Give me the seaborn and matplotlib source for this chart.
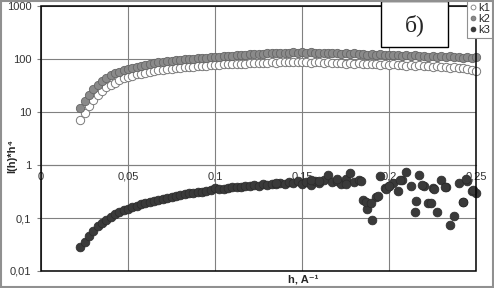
import numpy as np
import pandas as pd
import seaborn as sns
import matplotlib.pyplot as plt
from matplotlib.patches import Rectangle
from matplotlib.lines import Line2D
from matplotlib.ticker import NullLocator

# sample grid (h, A^-1)
h = [0.0225, 0.025, 0.0275, 0.03, 0.0325, 0.035, 0.0375, 0.04, 0.0425, 0.045,
     0.0475, 0.05, 0.0525, 0.055, 0.0575, 0.06, 0.0625, 0.065, 0.0675, 0.07,
     0.0725, 0.075, 0.0775, 0.08, 0.0825, 0.085, 0.0875, 0.09, 0.0925, 0.095,
     0.0975, 0.1, 0.1025, 0.105, 0.1075, 0.11, 0.1125, 0.115, 0.1175, 0.12,
     0.1225, 0.125, 0.1275, 0.13, 0.1325, 0.135, 0.1375, 0.14, 0.1425, 0.145,
     0.1475, 0.15, 0.1525, 0.155, 0.1575, 0.16, 0.1625, 0.165, 0.1675, 0.17,
     0.1725, 0.175, 0.1775, 0.18, 0.1825, 0.185, 0.1875, 0.19, 0.1925, 0.195,
     0.1975, 0.2, 0.2025, 0.205, 0.2075, 0.21, 0.2125, 0.215, 0.2175, 0.22,
     0.2225, 0.225, 0.2275, 0.23, 0.2325, 0.235, 0.2375, 0.24, 0.2425, 0.245,
     0.2475, 0.25]

k1 = [7, 9.5, 13, 17, 21, 25, 29, 33, 36, 40,
      43, 46, 48, 51, 53, 55, 57, 59, 61, 62,
      64, 65, 67, 68, 70, 71, 72, 73, 74, 75,
      76, 77, 78, 79, 79, 80, 81, 82, 82, 83,
      84, 84, 85, 85, 86, 85, 87, 86, 87, 86,
      88, 86, 87, 85, 87, 86, 84, 86, 83, 85,
      84, 82, 84, 81, 83, 80, 82, 79, 81, 78,
      80, 77, 79, 76, 78, 75, 77, 74, 76, 73,
      75, 72, 74, 71, 72, 69, 70, 67, 68, 64,
      62, 60]

k2 = [12, 16, 21, 27, 33, 38, 44, 49, 54, 58,
      62, 66, 69, 72, 75, 78, 81, 83, 86, 88,
      90, 92, 94, 96, 98, 100, 102, 103, 105, 106,
      108, 110, 111, 113, 114, 116, 117, 119, 120, 122,
      123, 125, 124, 127, 128, 127, 130, 131, 129, 133,
      132, 134, 131, 133, 130, 132, 128, 131, 127, 129,
      126, 128, 124, 127, 123, 125, 121, 124, 120, 122,
      118, 121, 117, 119, 115, 118, 114, 117, 113, 115,
      111, 114, 110, 113, 109, 112, 108, 110, 106, 109,
      105, 107]

k3 = [0.028, 0.036, 0.046, 0.058, 0.07, 0.081, 0.093, 0.105, 0.117, 0.128,
      0.139, 0.15, 0.16, 0.17, 0.18, 0.19, 0.2, 0.21, 0.22, 0.23,
      0.24, 0.25, 0.26, 0.27, 0.28, 0.29, 0.3, 0.31, 0.315, 0.33,
      0.34, 0.37, 0.35, 0.36, 0.37, 0.38, 0.38, 0.39, 0.4, 0.41,
      0.42, 0.41, 0.43, 0.42, 0.44, 0.43, 0.46, 0.44, 0.48, 0.45,
      0.5, 0.44, 0.47, 0.42, 0.49, 0.45, 0.52, 0.66, 0.48, 0.5,
      0.44, 0.55, 0.71, 0.47, 0.52, 0.22, 0.15, 0.09, 0.25, 0.61,
      0.37, 0.4, 0.46, 0.33, 0.52, 0.73, 0.4, 0.13, 0.66, 0.4,
      0.19, 0.37, 0.13, 0.53, 0.38, 0.075, 0.11, 0.45, 0.2, 0.5,
      0.32, 0.3]

# extra scattered k3 points at the noisy end
h3_extra = [0.135, 0.155, 0.16, 0.17, 0.175, 0.1838, 0.1866, 0.1895, 0.1934, 0.198,
            0.2, 0.2065, 0.2155, 0.219, 0.224, 0.226, 0.232, 0.2423, 0.244, 0.248]
k3_extra = [0.46, 0.52, 0.5, 0.55, 0.44, 0.49, 0.2, 0.19, 0.26, 0.35,
            0.4, 0.52, 0.21, 0.42, 0.19, 0.36, 0.38, 0.2, 0.55, 0.34]

x_ticks = [0, 0.05, 0.1, 0.15, 0.2, 0.25]
x_labels = ['0', '0,05', '0,1', '0,15', '0,2', '0,25']
y_ticks = [0.01, 0.1, 1, 10, 100, 1000]
y_labels = ['0,01', '0,1', '1', '10', '100', '1000']

sns.set_style('white')
plt.rcParams['font.family'] = ['Liberation Sans', 'DejaVu Sans']

fig = plt.figure(figsize=(4.94, 2.88), dpi=100)
ax = fig.add_axes([41/494, 17/288, 435/494, 265/288])

sns.scatterplot(x=h, y=k1, ax=ax, color='white', edgecolor='#7a7a7a',
                linewidth=0.7, s=36, zorder=3, legend=False, clip_on=False)
sns.scatterplot(x=h, y=k2, ax=ax, color='#8a8a8a', edgecolor='#666666',
                linewidth=0.6, s=36, zorder=4, legend=False, clip_on=False)
sns.scatterplot(x=h + h3_extra, y=k3 + k3_extra, ax=ax, color='#3a3a3a',
                edgecolor='#2a2a2a', linewidth=0.5, s=40, zorder=5,
                legend=False, clip_on=False)

ax.set_yscale('log')
ax.set_xlim(0, 0.25)
ax.set_ylim(0.01, 1000)
ax.set_xticks(x_ticks, labels=x_labels)
ax.set_yticks(y_ticks, labels=y_labels)
ax.yaxis.set_minor_locator(NullLocator())
ax.set_xlabel('')
ax.set_ylabel('')
ax.grid(True, color='#808080', lw=0.8)
ax.set_axisbelow(True)

# x axis crosses at 1 like in Excel
for s in ['top', 'left', 'right']:
    ax.spines[s].set_visible(False)
ax.spines['bottom'].set_position(('data', 1))
ax.spines['bottom'].set_color('#808080')
ax.spines['bottom'].set_linewidth(0.8)
ax.add_patch(Rectangle((0, 0), 1, 1, transform=ax.transAxes, fill=False,
                       ec='black', lw=1.1, zorder=6, clip_on=False))
ax.tick_params(axis='x', length=0, pad=5, labelsize=8, labelcolor='#333333')
ax.tick_params(axis='y', length=3, width=0.8, color='#808080', pad=4,
               labelsize=8, labelcolor='#333333', left=True)

fig.text(303/494, 1 - 279/288, 'h, A⁻¹', ha='center', va='center',
         fontsize=8, fontweight='bold')
fig.text(12/494, 1 - 156/288, 'I(h)*h⁴', ha='center', va='center',
         rotation=90, fontsize=8, fontweight='bold')

# title box
fig.add_artist(Rectangle((381/494, 1 - 47/288), 67/494, 46/288,
                         transform=fig.transFigure, fc='white', ec='black',
                         lw=1, zorder=7))
fig.text(414.5/494, 1 - 25/288, 'б)', ha='center', va='center', fontsize=17,
         family='Liberation Serif', zorder=8)

handles = [Line2D([], [], ls='', marker='o', ms=3.5, mfc='white', mec='#7a7a7a', mew=0.6),
           Line2D([], [], ls='', marker='o', ms=3.5, mfc='#8a8a8a', mec='#666666', mew=0.5),
           Line2D([], [], ls='', marker='o', ms=3.5, mfc='#3a3a3a', mec='#2a2a2a', mew=0.5)]
leg = fig.legend(handles, ['k1', 'k2', 'k3'], loc='upper right',
                 bbox_to_anchor=(493/494, 1.0), fontsize=8, handlelength=0.6,
                 handletextpad=0.2, borderpad=0.25, labelspacing=0.1,
                 fancybox=False, framealpha=1, edgecolor='#909090',
                 borderaxespad=0)
leg.set_zorder(9)
leg.get_frame().set_linewidth(0.8)

fig.add_artist(Rectangle((0.002, 0.003), 0.996, 0.994, transform=fig.transFigure,
                         fill=False, ec='#909090', lw=1.5, zorder=10))

fig.savefig('out.png', dpi=100)
